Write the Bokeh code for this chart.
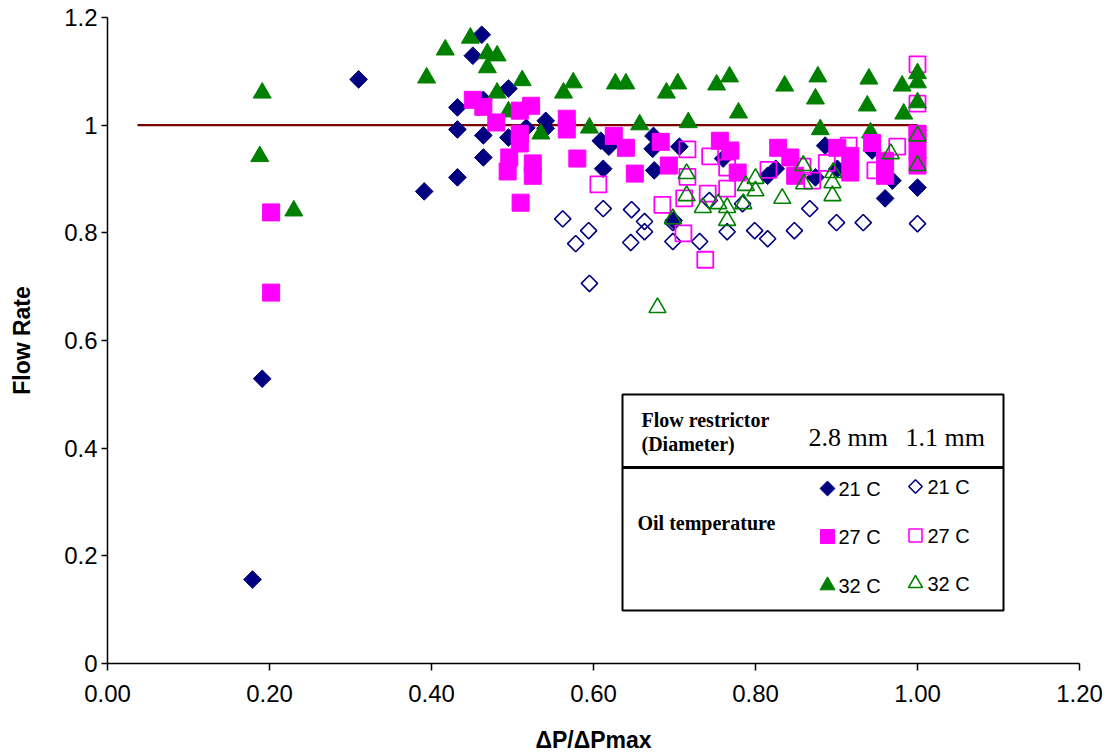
import numpy as np
from bokeh.plotting import figure
from bokeh.models import Range1d, FixedTicker
from bokeh.core.properties import value
from bokeh.embed import file_html
from bokeh.resources import INLINE

# ---------------- data ----------------
# 2.8 mm restrictor, 21 C (filled diamonds)
d21_x = [0.179, 0.191, 0.310, 0.391, 0.432, 0.432, 0.432, 0.451, 0.462, 0.464, 0.464, 0.464,
         0.495, 0.495, 0.517, 0.541, 0.541, 0.609, 0.619, 0.612, 0.674, 0.673, 0.675, 0.706,
         0.760, 0.815, 0.825, 0.699, 0.886, 0.901, 0.874, 0.944, 0.969, 0.960, 1.000]
d21_y = [0.156, 0.529, 1.085, 0.877, 0.903, 0.992, 1.033, 1.129, 1.168, 1.047, 0.981, 0.940,
         1.068, 0.977, 0.995, 1.008, 0.994, 0.971, 0.960, 0.919, 0.980, 0.956, 0.916, 0.960,
         0.938, 0.906, 0.919, 0.823, 0.962, 0.919, 0.903, 0.953, 0.897, 0.864, 0.884]

# 2.8 mm restrictor, 27 C (filled squares)
d27_x = [0.202, 0.202, 0.451, 0.464, 0.480, 0.509, 0.523, 0.509, 0.509, 0.496, 0.494, 0.525,
         0.525, 0.510, 0.567, 0.567, 0.580, 0.625, 0.640, 0.651, 0.683, 0.693, 0.756, 0.769,
         0.778, 0.828, 0.843, 0.849, 0.901, 0.917, 0.917, 0.944, 0.960, 0.960, 1.000, 1.000, 1.000]
d27_y = [0.838, 0.689, 1.047, 1.034, 1.005, 1.027, 1.036, 0.984, 0.966, 0.940, 0.914, 0.929,
         0.906, 0.856, 1.012, 0.992, 0.938, 0.980, 0.958, 0.910, 0.969, 0.925, 0.971, 0.953,
         0.912, 0.958, 0.940, 0.906, 0.958, 0.943, 0.912, 0.967, 0.934, 0.906, 0.984, 0.953, 0.925]

# 2.8 mm restrictor, 32 C (filled triangles)
d32_x = [0.191, 0.188, 0.230, 0.394, 0.417, 0.448, 0.469, 0.481, 0.469, 0.481, 0.495, 0.512,
         0.563, 0.575, 0.595, 0.535, 0.627, 0.640, 0.690, 0.704, 0.752, 0.768, 0.836, 0.779,
         0.657, 0.717, 0.877, 0.874, 0.880, 0.940, 0.938, 0.942, 0.981, 0.983, 1.000, 1.000, 1.000]
d32_y = [1.060, 0.942, 0.841, 1.088, 1.140, 1.162, 1.133, 1.129, 1.107, 1.060, 1.025, 1.083,
         1.060, 1.079, 0.995, 0.984, 1.077, 1.077, 1.060, 1.077, 1.075, 1.090, 1.073, 1.023,
         1.001, 1.005, 1.090, 1.049, 0.992, 1.086, 1.036, 0.986, 1.073, 1.021, 1.096, 1.079, 1.042]

# 1.1 mm restrictor, 21 C (open diamonds)
s21_x = [0.562, 0.612, 0.594, 0.578, 0.647, 0.663, 0.663, 0.646, 0.698, 0.731, 0.595, 0.765,
         0.698, 0.743, 0.784, 0.799, 0.815, 0.848, 0.867, 0.900, 0.933, 1.000]
s21_y = [0.826, 0.845, 0.804, 0.780, 0.843, 0.821, 0.802, 0.782, 0.784, 0.784, 0.706, 0.802,
         0.819, 0.860, 0.854, 0.804, 0.789, 0.804, 0.845, 0.819, 0.819, 0.817]

# 1.1 mm restrictor, 27 C (open squares)
s27_x = [0.606, 0.685, 0.712, 0.716, 0.716, 0.744, 0.741, 0.765, 0.765, 0.711, 0.738, 0.816,
         0.858, 0.870, 0.888, 0.915, 0.948, 0.975, 1.000, 1.000, 1.000]
s27_y = [0.890, 0.852, 0.864, 0.904, 0.955, 0.942, 0.873, 0.882, 0.921, 0.799, 0.750, 0.917,
         0.923, 0.897, 0.930, 0.962, 0.916, 0.960, 1.113, 1.040, 0.984]

# 1.1 mm restrictor, 32 C (open triangles)
s32_x = [0.679, 0.698, 0.715, 0.715, 0.735, 0.754, 0.765, 0.765, 0.788, 0.800, 0.800, 0.785,
         0.833, 0.859, 0.860, 0.896, 0.895, 0.895, 0.967, 1.000, 1.000]
s32_y = [0.661, 0.826, 0.910, 0.869, 0.847, 0.854, 0.847, 0.823, 0.888, 0.901, 0.878, 0.854,
         0.864, 0.925, 0.891, 0.912, 0.893, 0.869, 0.947, 0.980, 0.925]

ref_x = [0.037, 1.0]
ref_y = [1.0, 1.0]

x_ticks = [0.0, 0.2, 0.4, 0.6, 0.8, 1.0, 1.2]
x_tick_labels = ["0.00", "0.20", "0.40", "0.60", "0.80", "1.00", "1.20"]
y_ticks = [0.0, 0.2, 0.4, 0.6, 0.8, 1.0, 1.2]
y_tick_labels = ["0", "0.2", "0.4", "0.6", "0.8", "1", "1.2"]

NAVY = "#000080"
MAG = "#FF00FF"
GREEN = "#008000"

# ---------------- figure ----------------
W, H = 1113, 756
FL, FR, FT, FB = 107, 1079, 17, 663

p = figure(width=W, height=H, output_backend="svg", toolbar_location=None,
           x_range=Range1d(0, 1.2), y_range=Range1d(0, 1.2),
           min_border_left=FL, min_border_right=W - FR,
           min_border_top=FT, min_border_bottom=H - FB)
p.outline_line_color = None
p.xgrid.visible = False
p.ygrid.visible = False
p.background_fill_color = "white"
p.border_fill_color = "white"

for ax, ticks, labels in ((p.xaxis[0], x_ticks, x_tick_labels), (p.yaxis[0], y_ticks, y_tick_labels)):
    ax.ticker = FixedTicker(ticks=ticks)
    ax.major_label_overrides = {t: l for t, l in zip(ticks, labels)}
    ax.minor_tick_line_color = None
    ax.axis_line_color = "#000000"
    ax.axis_line_width = 1.5
    ax.major_tick_line_color = "#000000"
    ax.major_tick_line_width = 1.5
    ax.major_tick_in = 0
    ax.major_label_text_font = "Liberation Sans"
    ax.major_label_text_font_size = "24px"
    ax.major_label_text_color = "#000000"
    ax.axis_label_text_font = "Liberation Sans"
    ax.axis_label_text_font_style = "bold"
    ax.axis_label_text_font_size = "23px"
    ax.axis_label_text_color = "#000000"

p.xaxis.axis_label = "ΔP/ΔPmax"
p.yaxis.axis_label = "Flow Rate"
p.xaxis.major_tick_out = 7
p.xaxis.major_label_standoff = 14
p.xaxis.axis_label_standoff = 22
p.yaxis.major_tick_out = 6
p.yaxis.major_label_standoff = 4
p.yaxis.axis_label_standoff = 26

# reference line at 1
p.line(ref_x, ref_y, line_color="#800000", line_width=2.2)

ANG = np.pi / 4
p.scatter(d21_x, d21_y, marker="square", angle=ANG, size=12.5, fill_color=NAVY, line_color=NAVY, line_width=1)
p.scatter(s21_x, s21_y, marker="square", angle=ANG, size=11.5, fill_color=None, line_color=NAVY, line_width=1.6)
p.scatter(s27_x, s27_y, marker="square", size=16, fill_color=None, line_color=MAG, line_width=1.8)
p.scatter(d32_x, d32_y, marker="triangle", size=18, fill_color=GREEN, line_color=GREEN, line_width=1)
p.scatter(d27_x, d27_y, marker="square", size=17, fill_color=MAG, line_color=MAG, line_width=1)
p.scatter(s32_x, s32_y, marker="triangle", size=17, fill_color=None, line_color=GREEN, line_width=1.6)

# ---------------- custom legend table ----------------
def dx(px):
    return (px - FL) / (FR - FL) * 1.2

def dy(py):
    return (FB - py) / (FB - FT) * 1.2

p.quad(left=[dx(622)], right=[dx(1003)], top=[dy(394)], bottom=[dy(610)],
       fill_color="white", line_color="black", line_width=2)
p.line([dx(622), dx(1003)], [dy(467), dy(467)], line_color="black", line_width=3)

serif = value("Liberation Serif")
sans = value("Liberation Sans")
p.text(x=[dx(641), dx(641), dx(637)], y=[dy(419), dy(443), dy(522)],
       text=["Flow restrictor", "(Diameter)", "Oil temperature"],
       text_font=serif, text_font_style="bold", text_font_size="20px",
       text_baseline="middle", text_align="left", text_color="black")
p.text(x=[dx(808), dx(905)], y=[dy(437), dy(437)], text=["2.8 mm", "1.1 mm"],
       text_font=serif, text_font_size="26px",
       text_baseline="middle", text_align="left", text_color="black")

leg_labels = ["21 C", "27 C", "32 C"]
row_y = [dy(488), dy(536), dy(585)]
p.text(x=[dx(838)] * 3 + [dx(927)] * 3, y=row_y + [dy(486), dy(535), dy(583)],
       text=leg_labels + leg_labels, text_font=sans, text_font_size="20px",
       text_baseline="middle", text_align="left", text_color="black")

c1, c2 = dx(827), dx(915)
p.scatter([c1], [row_y[0]], marker="square", angle=ANG, size=10.5, fill_color=NAVY, line_color=NAVY)
p.scatter([c2], [dy(486)], marker="square", angle=ANG, size=9.5, fill_color=None, line_color=NAVY, line_width=1.6)
p.scatter([c1], [row_y[1]], marker="square", size=14, fill_color=MAG, line_color=MAG)
p.scatter([c2], [dy(535)], marker="square", size=13, fill_color=None, line_color=MAG, line_width=1.6)
p.scatter([c1], [row_y[2]], marker="triangle", size=15, fill_color=GREEN, line_color=GREEN)
p.scatter([c2], [dy(583)], marker="triangle", size=14, fill_color=None, line_color=GREEN, line_width=1.6)

open("out.html", "w").write(file_html(p, INLINE))
